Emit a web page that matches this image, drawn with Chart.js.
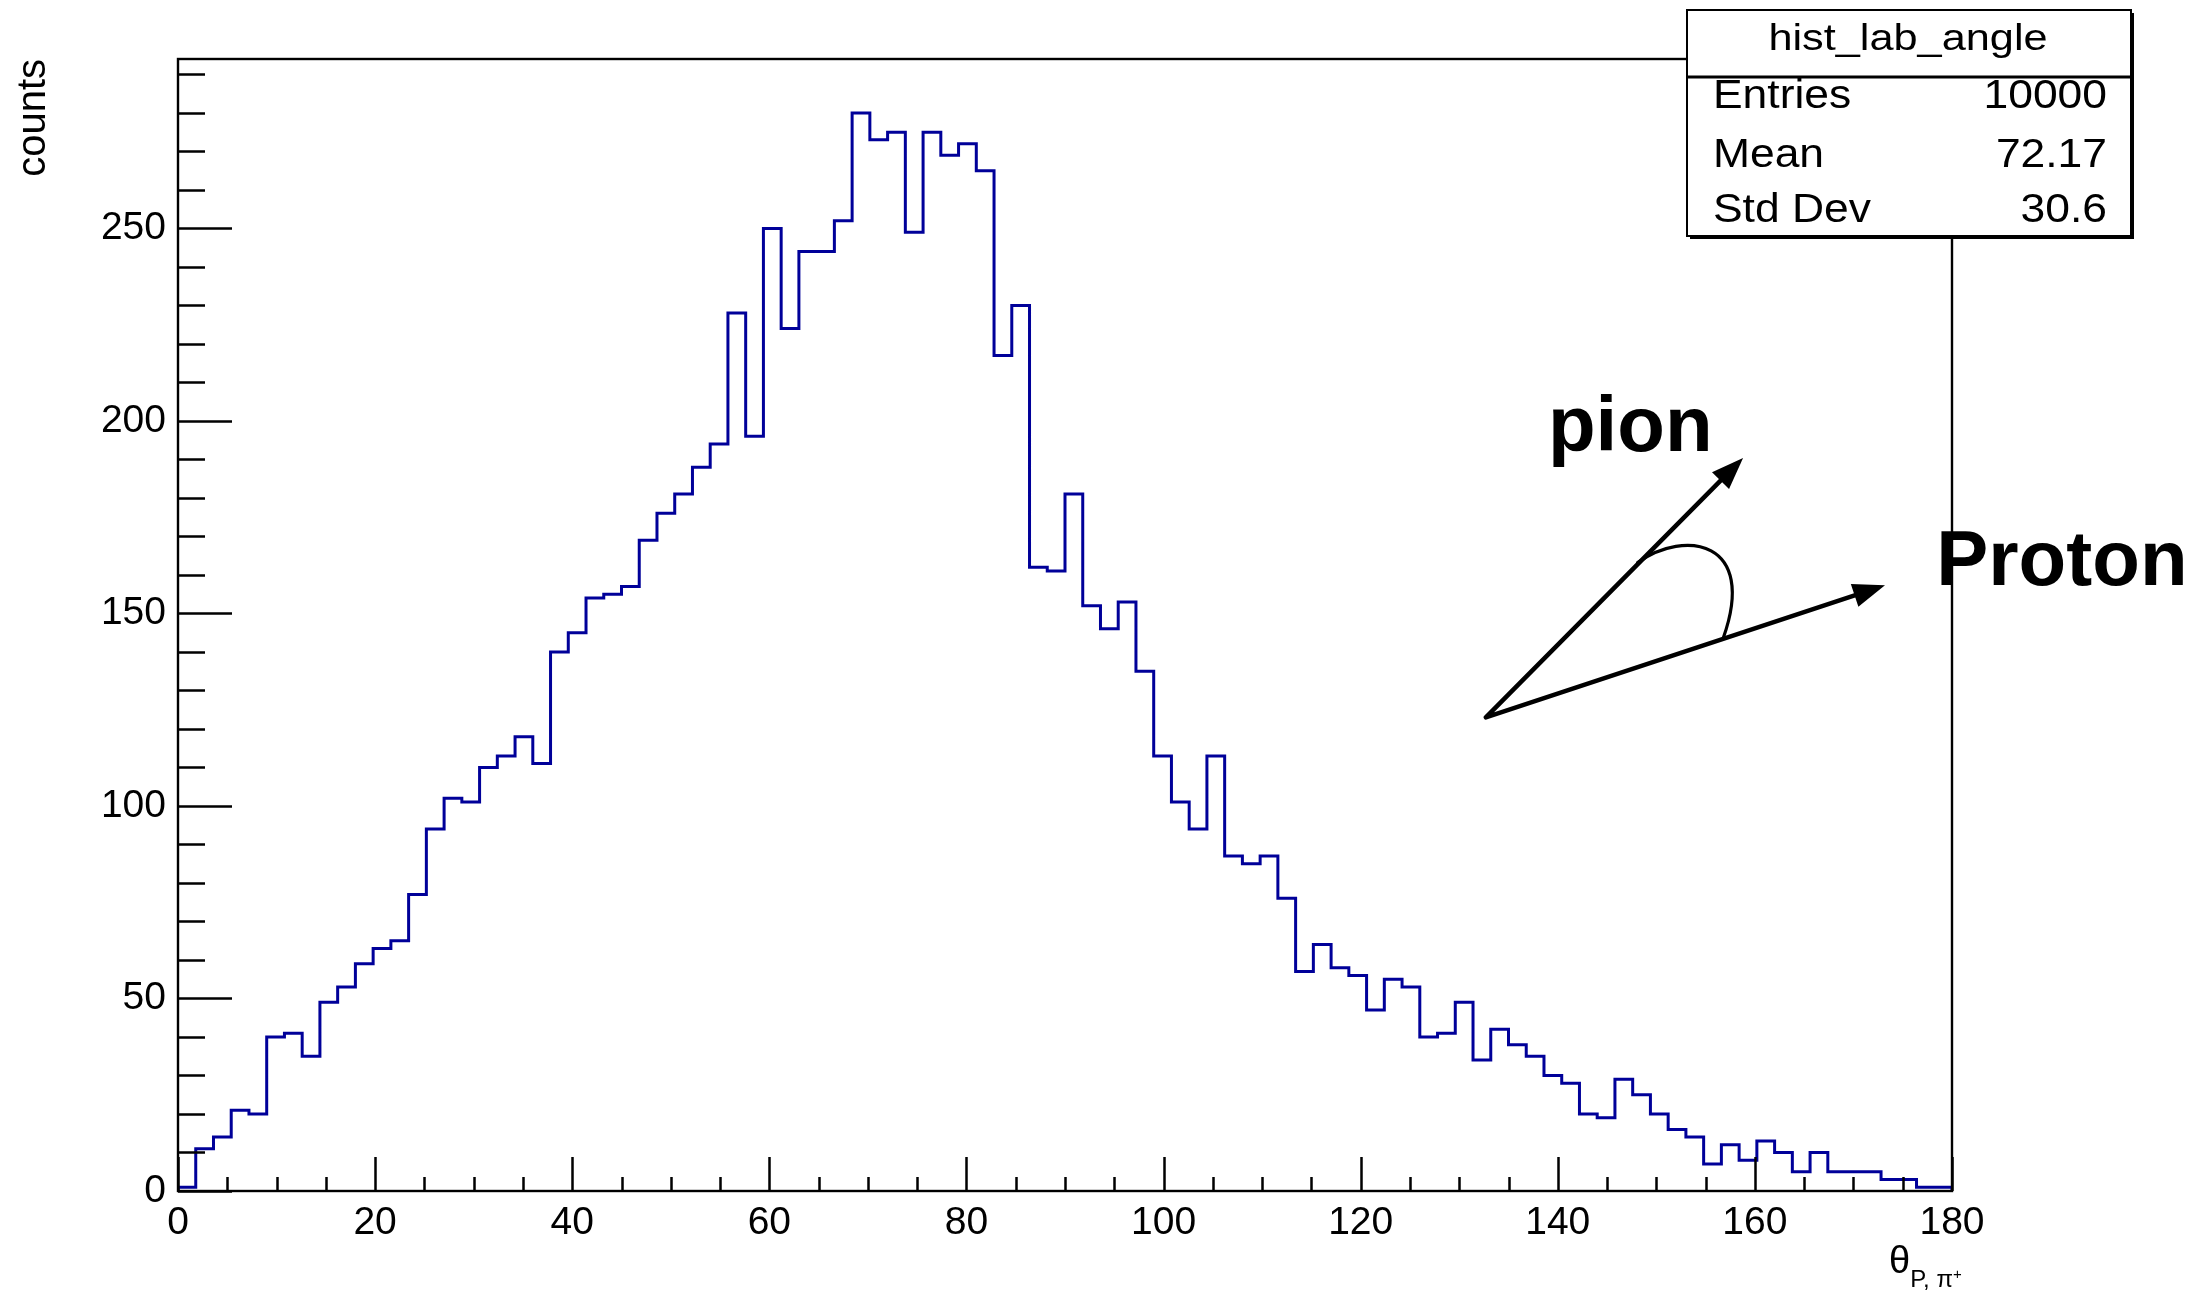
<!DOCTYPE html>
<html>
<head>
<meta charset="utf-8">
<title>hist_lab_angle</title>
<script src="https://cdn.jsdelivr.net/npm/chart.js@4.4.1/dist/chart.umd.min.js"></script>
<style>
  html, body { margin: 0; padding: 0; background: #fff; }
  #wrap { width: 2202px; height: 1290px; }
  canvas { display: block; }
</style>
</head>
<body>
<div id="wrap"><canvas id="c" width="2202" height="1290"></canvas></div>
<script>
// Opening angle between proton and pi+ in the lab frame: 100 bins over 0..180 deg
const xMin = 0;
const xMax = 180;
const nBins = 100;
const yAxisMax = 294;

const binCounts = [
    1,  11,  14,  21,  20,  40,  41,  35,  49,  53,
   59,  63,  65,  77,  94, 102, 101, 110, 113, 118,
  111, 140, 145, 154, 155, 157, 169, 176, 181, 188,
  194, 228, 196, 250, 224, 244, 244, 252, 280, 273,
  275, 249, 275, 269, 272, 265, 217, 230, 162, 161,
  181, 152, 146, 153, 135, 113, 101,  94, 113,  87,
   85,  87,  76,  57,  64,  58,  56,  47,  55,  53,
   40,  41,  49,  34,  42,  38,  35,  30,  28,  20,
   19,  29,  25,  20,  16,  14,   7,  12,   8,  13,
   10,   5,  10,   5,   5,   5,   3,   3,   1,   1
];

const xTickLabels = [0, 20, 40, 60, 80, 100, 120, 140, 160, 180];
const yTickLabels = [0, 50, 100, 150, 200, 250];

const statsTitle = 'hist_lab_angle';
const statsNames = ['Entries', 'Mean', 'Std Dev'];
const statsValues = ['10000', '72.17', '30.6'];

// Sketch of the two momentum vectors, in axis units (angle, counts)
const sketch = {
  origin:     [132.7, 123.0],
  pionTip:    [158.8, 190.4],
  protonTip:  [173.2, 157.3],
  arcStart:   [148.1, 163.2],
  arcCtrl1:   [152.9, 172.0],
  arcCtrl2:   [160.3, 169.0],
  arcEnd:     [156.8, 143.7],
  pionText:   [139.0, 192.1],
  protonText: [178.4, 157.5]
};

const FONT = "'Liberation Sans', Arial, Helvetica, sans-serif";
const LINE_BLUE = '#000099';

// Step outline: closed to zero at both ends, like a HIST draw
const binWidth = (xMax - xMin) / nBins;
const outline = [{ x: xMin, y: 0 }];
binCounts.forEach((c, i) => outline.push({ x: xMin + i * binWidth, y: c }));
outline.push({ x: xMax, y: binCounts[nBins - 1] });
outline.push({ x: xMax, y: 0 });

function stretchedText(ctx, text, x, y, align, sx) {
  ctx.save();
  ctx.translate(x, y);
  ctx.scale(sx, 1);
  ctx.textAlign = align;
  ctx.fillText(text, 0, 0);
  ctx.restore();
}

function arrowHead(ctx, fromX, fromY, tipX, tipY, len, half) {
  const a = Math.atan2(tipY - fromY, tipX - fromX);
  const bx = tipX - len * Math.cos(a), by = tipY - len * Math.sin(a);
  ctx.beginPath();
  ctx.moveTo(tipX, tipY);
  ctx.lineTo(bx + half * Math.sin(a), by - half * Math.cos(a));
  ctx.lineTo(bx - half * Math.sin(a), by + half * Math.cos(a));
  ctx.closePath();
  ctx.fill();
}

// Frame, inward tick marks, stats box, vector sketch and x title
const decorations = {
  id: 'decorations',
  afterDatasetsDraw(chart) {
    const { ctx, chartArea: a } = chart;
    const xs = chart.scales.x, ys = chart.scales.y;
    ctx.save();
    ctx.strokeStyle = '#000';
    ctx.lineCap = 'butt';

    // tick marks
    ctx.lineWidth = 2.5;
    ctx.beginPath();
    for (let v = xs.min; v <= xs.max + 1e-9; v += 5) {
      const p = Math.round(xs.getPixelForValue(v)) + 0.5;
      const len = (v % 20 === 0) ? 34 : 14;
      ctx.moveTo(p, a.bottom);
      ctx.lineTo(p, a.bottom - len);
    }
    for (let v = 0; v <= ys.max; v += 10) {
      const p = Math.round(ys.getPixelForValue(v)) + 0.5;
      const len = (v % 50 === 0) ? 54 : 27;
      ctx.moveTo(a.left, p);
      ctx.lineTo(a.left + len, p);
    }
    ctx.stroke();

    // frame
    ctx.lineWidth = 2.4;
    ctx.strokeRect(a.left, a.top, a.right - a.left, a.bottom - a.top);
    ctx.restore();
  },
  afterDraw(chart) {
    const { ctx } = chart;
    const xs = chart.scales.x, ys = chart.scales.y;
    const P = (pt) => [xs.getPixelForValue(pt[0]), ys.getPixelForValue(pt[1])];
    ctx.save();

    // stats box
    const bx = 1687, by = 10, bw = 444, bh = 226, sep = 67;
    ctx.fillStyle = '#000';
    ctx.fillRect(bx + 3, by + 3, bw, bh);
    ctx.fillStyle = '#fff';
    ctx.fillRect(bx, by, bw, bh);
    ctx.strokeStyle = '#000';
    ctx.lineWidth = 2;
    ctx.strokeRect(bx, by, bw, bh);
    ctx.lineWidth = 3;
    ctx.beginPath();
    ctx.moveTo(bx, by + sep);
    ctx.lineTo(bx + bw, by + sep);
    ctx.stroke();

    ctx.fillStyle = '#000';
    ctx.textBaseline = 'alphabetic';
    ctx.font = `37px ${FONT}`;
    stretchedText(ctx, statsTitle, bx + bw / 2 - 1, 50, 'center', 1.17);
    ctx.font = `40px ${FONT}`;
    const rowBase = [108, 167, 222];
    statsNames.forEach((n, i) => {
      stretchedText(ctx, n, 1713, rowBase[i], 'left', 1.11);
      stretchedText(ctx, statsValues[i], 2107, rowBase[i], 'right', 1.11);
    });

    // vector sketch
    const o = P(sketch.origin), pt = P(sketch.pionTip), qt = P(sketch.protonTip);
    ctx.strokeStyle = '#000';
    ctx.fillStyle = '#000';
    ctx.lineWidth = 4.5;
    ctx.lineCap = 'round';
    const shorten = (from, to, d) => {
      const L = Math.hypot(to[0] - from[0], to[1] - from[1]);
      return [to[0] - (to[0] - from[0]) * d / L, to[1] - (to[1] - from[1]) * d / L];
    };
    const pe = shorten(o, pt, 20), qe = shorten(o, qt, 20);
    ctx.beginPath();
    ctx.moveTo(o[0], o[1]); ctx.lineTo(pe[0], pe[1]);
    ctx.moveTo(o[0], o[1]); ctx.lineTo(qe[0], qe[1]);
    ctx.stroke();
    arrowHead(ctx, o[0], o[1], pt[0], pt[1], 32, 12);
    arrowHead(ctx, o[0], o[1], qt[0], qt[1], 32, 12);

    const s0 = P(sketch.arcStart), c1 = P(sketch.arcCtrl1), c2 = P(sketch.arcCtrl2), s1 = P(sketch.arcEnd);
    ctx.lineWidth = 3.2;
    ctx.beginPath();
    ctx.moveTo(s0[0], s0[1]);
    ctx.bezierCurveTo(c1[0], c1[1], c2[0], c2[1], s1[0], s1[1]);
    ctx.stroke();

    ctx.font = `bold 78px ${FONT}`;
    ctx.textAlign = 'left';
    const pl = P(sketch.pionText), ql = P(sketch.protonText);
    ctx.fillText('pion', pl[0], pl[1]);
    ctx.fillText('Proton', ql[0], ql[1]);

    // x-axis title: theta with subscript P,pi+
    ctx.textAlign = 'left';
    ctx.font = `38px ${FONT}`;
    let tx = 1889;
    ctx.fillText('\u03B8', tx, 1273);
    tx += ctx.measureText('\u03B8').width;
    ctx.font = `24px ${FONT}`;
    ctx.fillText('P,', tx, 1287);
    tx += ctx.measureText('P, ').width;
    ctx.fillText('\u03C0', tx, 1287);
    tx += ctx.measureText('\u03C0').width;
    ctx.font = `15px ${FONT}`;
    ctx.fillText('+', tx, 1279);

    ctx.restore();
  }
};

new Chart(document.getElementById('c'), {
  type: 'line',
  data: {
    datasets: [{
      label: statsTitle,
      data: outline,
      stepped: true,
      borderColor: LINE_BLUE,
      borderWidth: 3,
      pointRadius: 0,
      fill: false,
      tension: 0
    }]
  },
  options: {
    responsive: false,
    animation: false,
    devicePixelRatio: 1,
    layout: { padding: { top: 59, right: 250, bottom: 0, left: 0 } },
    plugins: {
      legend: { display: false },
      tooltip: { enabled: false },
      title: { display: false }
    },
    scales: {
      x: {
        type: 'linear',
        min: xMin,
        max: xMax,
        afterBuildTicks: (s) => { s.ticks = xTickLabels.map(v => ({ value: v })); },
        afterFit: (s) => { s.height = 99; },
        grid: { display: false, drawTicks: false },
        border: { display: false },
        ticks: {
          autoSkip: false,
          maxRotation: 0,
          padding: 9,
          color: '#000',
          font: { family: FONT, size: 39 }
        }
      },
      y: {
        type: 'linear',
        min: 0,
        max: yAxisMax,
        afterBuildTicks: (s) => { s.ticks = yTickLabels.map(v => ({ value: v })); },
        afterFit: (s) => { s.width = 178; },
        grid: { display: false, drawTicks: false },
        border: { display: false },
        ticks: {
          padding: 12,
          color: '#000',
          font: { family: FONT, size: 39 }
        },
        title: {
          display: true,
          text: 'counts',
          align: 'end',
          color: '#000',
          font: { family: FONT, size: 40 },
          padding: { top: 10, bottom: 0 }
        }
      }
    }
  },
  plugins: [decorations]
});
</script>
</body>
</html>
